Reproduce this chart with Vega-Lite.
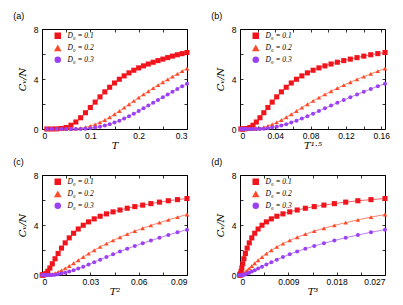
{
"$schema": "https://vega.github.io/schema/vega-lite/v6.json",
"padding": {"left": 12, "top": 11, "right": 0, "bottom": 0},
"config": {
 "font": "Liberation Sans",
 "view": {"stroke": "black", "strokeWidth": 1},
 "axis": {"grid": false, "domain": false, "tickSize": -3, "tickColor": "black", "tickWidth": 0.8, "labelFont": "Liberation Sans", "labelFontSize": 8.5, "labelColor": "black", "titleFont": "DejaVu Serif", "titleFontStyle": "italic", "titleFontWeight": "normal", "titleFontSize": 10, "titleColor": "black", "format": "~g"},
 "axisY": {"titlePadding": 6, "labelPadding": 7},
 "axisX": {"titlePadding": 1, "labelPadding": 5},
 "legend": {"orient": "none", "legendX": 12, "legendY": 3, "title": null, "labelFont": "Liberation Serif", "labelFontStyle": "italic", "labelFontSize": 7.5, "labelColor": "black", "symbolSize": 25, "symbolOpacity": 1, "rowPadding": 0.5, "padding": 0, "labelOffset": 6},
 "title": {"font": "Liberation Sans", "fontSize": 9, "fontWeight": "normal", "anchor": "start", "frame": "bounds", "offset": 4, "color": "black"}
},
"data": {"values": [
{"T":0.01,"T15":0.001,"T2":0.0001,"T3":0.000001,"D":"0.1","C":0},
{"T":0.02,"T15":0.002828,"T2":0.0004,"T3":0.000008,"D":"0.1","C":0},
{"T":0.03,"T15":0.005196,"T2":0.0009,"T3":0.000027,"D":"0.1","C":0.01},
{"T":0.04,"T15":0.008,"T2":0.0016,"T3":0.000064,"D":"0.1","C":0.04},
{"T":0.05,"T15":0.01118,"T2":0.0025,"T3":0.000125,"D":"0.1","C":0.12},
{"T":0.06,"T15":0.014697,"T2":0.0036,"T3":0.000216,"D":"0.1","C":0.3},
{"T":0.07,"T15":0.01852,"T2":0.0049,"T3":0.000343,"D":"0.1","C":0.56},
{"T":0.08,"T15":0.022627,"T2":0.0064,"T3":0.000512,"D":"0.1","C":0.9},
{"T":0.09,"T15":0.027,"T2":0.0081,"T3":0.000729,"D":"0.1","C":1.3},
{"T":0.1,"T15":0.031623,"T2":0.01,"T3":0.001,"D":"0.1","C":1.72},
{"T":0.11,"T15":0.036483,"T2":0.0121,"T3":0.001331,"D":"0.1","C":2.15},
{"T":0.12,"T15":0.041569,"T2":0.0144,"T3":0.001728,"D":"0.1","C":2.57},
{"T":0.13,"T15":0.046872,"T2":0.0169,"T3":0.002197,"D":"0.1","C":2.97},
{"T":0.14,"T15":0.052383,"T2":0.0196,"T3":0.002744,"D":"0.1","C":3.34},
{"T":0.15,"T15":0.058095,"T2":0.0225,"T3":0.003375,"D":"0.1","C":3.68},
{"T":0.16,"T15":0.064,"T2":0.0256,"T3":0.004096,"D":"0.1","C":3.98},
{"T":0.17,"T15":0.070093,"T2":0.0289,"T3":0.004913,"D":"0.1","C":4.25},
{"T":0.18,"T15":0.076368,"T2":0.0324,"T3":0.005832,"D":"0.1","C":4.49},
{"T":0.19,"T15":0.082819,"T2":0.0361,"T3":0.006859,"D":"0.1","C":4.7},
{"T":0.2,"T15":0.089443,"T2":0.04,"T3":0.008,"D":"0.1","C":4.89},
{"T":0.21,"T15":0.096234,"T2":0.0441,"T3":0.009261,"D":"0.1","C":5.05},
{"T":0.22,"T15":0.103189,"T2":0.0484,"T3":0.010648,"D":"0.1","C":5.2},
{"T":0.23,"T15":0.110304,"T2":0.0529,"T3":0.012167,"D":"0.1","C":5.34},
{"T":0.24,"T15":0.117576,"T2":0.0576,"T3":0.013824,"D":"0.1","C":5.47},
{"T":0.25,"T15":0.125,"T2":0.0625,"T3":0.015625,"D":"0.1","C":5.59},
{"T":0.26,"T15":0.132575,"T2":0.0676,"T3":0.017576,"D":"0.1","C":5.71},
{"T":0.27,"T15":0.140296,"T2":0.0729,"T3":0.019683,"D":"0.1","C":5.83},
{"T":0.28,"T15":0.148162,"T2":0.0784,"T3":0.021952,"D":"0.1","C":5.94},
{"T":0.29,"T15":0.15617,"T2":0.0841,"T3":0.024389,"D":"0.1","C":6.03},
{"T":0.3,"T15":0.164317,"T2":0.09,"T3":0.027,"D":"0.1","C":6.12},
{"T":0.01,"T15":0.001,"T2":0.0001,"T3":0.000001,"D":"0.2","C":0},
{"T":0.02,"T15":0.002828,"T2":0.0004,"T3":0.000008,"D":"0.2","C":0},
{"T":0.03,"T15":0.005196,"T2":0.0009,"T3":0.000027,"D":"0.2","C":0},
{"T":0.04,"T15":0.008,"T2":0.0016,"T3":0.000064,"D":"0.2","C":0},
{"T":0.05,"T15":0.01118,"T2":0.0025,"T3":0.000125,"D":"0.2","C":0},
{"T":0.06,"T15":0.014697,"T2":0.0036,"T3":0.000216,"D":"0.2","C":0.01},
{"T":0.07,"T15":0.01852,"T2":0.0049,"T3":0.000343,"D":"0.2","C":0.03},
{"T":0.08,"T15":0.022627,"T2":0.0064,"T3":0.000512,"D":"0.2","C":0.07},
{"T":0.09,"T15":0.027,"T2":0.0081,"T3":0.000729,"D":"0.2","C":0.14},
{"T":0.1,"T15":0.031623,"T2":0.01,"T3":0.001,"D":"0.2","C":0.24},
{"T":0.11,"T15":0.036483,"T2":0.0121,"T3":0.001331,"D":"0.2","C":0.37},
{"T":0.12,"T15":0.041569,"T2":0.0144,"T3":0.001728,"D":"0.2","C":0.53},
{"T":0.13,"T15":0.046872,"T2":0.0169,"T3":0.002197,"D":"0.2","C":0.72},
{"T":0.14,"T15":0.052383,"T2":0.0196,"T3":0.002744,"D":"0.2","C":0.94},
{"T":0.15,"T15":0.058095,"T2":0.0225,"T3":0.003375,"D":"0.2","C":1.18},
{"T":0.16,"T15":0.064,"T2":0.0256,"T3":0.004096,"D":"0.2","C":1.44},
{"T":0.17,"T15":0.070093,"T2":0.0289,"T3":0.004913,"D":"0.2","C":1.71},
{"T":0.18,"T15":0.076368,"T2":0.0324,"T3":0.005832,"D":"0.2","C":1.98},
{"T":0.19,"T15":0.082819,"T2":0.0361,"T3":0.006859,"D":"0.2","C":2.25},
{"T":0.2,"T15":0.089443,"T2":0.04,"T3":0.008,"D":"0.2","C":2.51},
{"T":0.21,"T15":0.096234,"T2":0.0441,"T3":0.009261,"D":"0.2","C":2.77},
{"T":0.22,"T15":0.103189,"T2":0.0484,"T3":0.010648,"D":"0.2","C":3.02},
{"T":0.23,"T15":0.110304,"T2":0.0529,"T3":0.012167,"D":"0.2","C":3.27},
{"T":0.24,"T15":0.117576,"T2":0.0576,"T3":0.013824,"D":"0.2","C":3.51},
{"T":0.25,"T15":0.125,"T2":0.0625,"T3":0.015625,"D":"0.2","C":3.74},
{"T":0.26,"T15":0.132575,"T2":0.0676,"T3":0.017576,"D":"0.2","C":3.97},
{"T":0.27,"T15":0.140296,"T2":0.0729,"T3":0.019683,"D":"0.2","C":4.19},
{"T":0.28,"T15":0.148162,"T2":0.0784,"T3":0.021952,"D":"0.2","C":4.41},
{"T":0.29,"T15":0.15617,"T2":0.0841,"T3":0.024389,"D":"0.2","C":4.63},
{"T":0.3,"T15":0.164317,"T2":0.09,"T3":0.027,"D":"0.2","C":4.84},
{"T":0.01,"T15":0.001,"T2":0.0001,"T3":0.000001,"D":"0.3","C":0},
{"T":0.02,"T15":0.002828,"T2":0.0004,"T3":0.000008,"D":"0.3","C":0},
{"T":0.03,"T15":0.005196,"T2":0.0009,"T3":0.000027,"D":"0.3","C":0},
{"T":0.04,"T15":0.008,"T2":0.0016,"T3":0.000064,"D":"0.3","C":0},
{"T":0.05,"T15":0.01118,"T2":0.0025,"T3":0.000125,"D":"0.3","C":0},
{"T":0.06,"T15":0.014697,"T2":0.0036,"T3":0.000216,"D":"0.3","C":0},
{"T":0.07,"T15":0.01852,"T2":0.0049,"T3":0.000343,"D":"0.3","C":0},
{"T":0.08,"T15":0.022627,"T2":0.0064,"T3":0.000512,"D":"0.3","C":0.01},
{"T":0.09,"T15":0.027,"T2":0.0081,"T3":0.000729,"D":"0.3","C":0.03},
{"T":0.1,"T15":0.031623,"T2":0.01,"T3":0.001,"D":"0.3","C":0.07},
{"T":0.11,"T15":0.036483,"T2":0.0121,"T3":0.001331,"D":"0.3","C":0.12},
{"T":0.12,"T15":0.041569,"T2":0.0144,"T3":0.001728,"D":"0.3","C":0.19},
{"T":0.13,"T15":0.046872,"T2":0.0169,"T3":0.002197,"D":"0.3","C":0.28},
{"T":0.14,"T15":0.052383,"T2":0.0196,"T3":0.002744,"D":"0.3","C":0.39},
{"T":0.15,"T15":0.058095,"T2":0.0225,"T3":0.003375,"D":"0.3","C":0.52},
{"T":0.16,"T15":0.064,"T2":0.0256,"T3":0.004096,"D":"0.3","C":0.67},
{"T":0.17,"T15":0.070093,"T2":0.0289,"T3":0.004913,"D":"0.3","C":0.84},
{"T":0.18,"T15":0.076368,"T2":0.0324,"T3":0.005832,"D":"0.3","C":1.03},
{"T":0.19,"T15":0.082819,"T2":0.0361,"T3":0.006859,"D":"0.3","C":1.23},
{"T":0.2,"T15":0.089443,"T2":0.04,"T3":0.008,"D":"0.3","C":1.44},
{"T":0.21,"T15":0.096234,"T2":0.0441,"T3":0.009261,"D":"0.3","C":1.66},
{"T":0.22,"T15":0.103189,"T2":0.0484,"T3":0.010648,"D":"0.3","C":1.88},
{"T":0.23,"T15":0.110304,"T2":0.0529,"T3":0.012167,"D":"0.3","C":2.1},
{"T":0.24,"T15":0.117576,"T2":0.0576,"T3":0.013824,"D":"0.3","C":2.32},
{"T":0.25,"T15":0.125,"T2":0.0625,"T3":0.015625,"D":"0.3","C":2.54},
{"T":0.26,"T15":0.132575,"T2":0.0676,"T3":0.017576,"D":"0.3","C":2.76},
{"T":0.27,"T15":0.140296,"T2":0.0729,"T3":0.019683,"D":"0.3","C":2.98},
{"T":0.28,"T15":0.148162,"T2":0.0784,"T3":0.021952,"D":"0.3","C":3.2},
{"T":0.29,"T15":0.15617,"T2":0.0841,"T3":0.024389,"D":"0.3","C":3.42},
{"T":0.3,"T15":0.164317,"T2":0.09,"T3":0.027,"D":"0.3","C":3.63}
]},
"columns": 2,
"spacing": {"row": 6, "column": 19},
"resolve": {"scale": {"x": "independent", "y": "independent"}, "legend": {"color": "independent", "shape": "independent"}},
"concat": [
 {"title": {"text": "(a)", "dx": -4}, "width": 145, "height": 100,
  "resolve": {"axis": {"x": "independent", "y": "independent"}},
  "layer": [
   {"mark": {"type": "line", "strokeWidth": 0.9, "strokeOpacity": 0.75},
    "encoding": {"x": {"field": "T", "type": "quantitative", "scale": {"domain": [0, 0.3], "nice": false}, "axis": {"orient": "bottom", "title": "T", "values": [0,0.05,0.1,0.15,0.2,0.25,0.3], "labelExpr": "round(datum.value*100) % 10 === 0 ? datum.label : ''"}},
     "y": {"field": "C", "type": "quantitative", "scale": {"domain": [0, 8], "nice": false}, "axis": {"orient": "left", "title": "Cᵥ/N", "values": [0,2,4,6,8], "labelExpr": "datum.value % 4 === 0 ? datum.label : ''"}},
     "color": {"field": "D", "type": "nominal", "scale": {"domain": ["0.1","0.2","0.3"], "range": ["#f0141c","#ff4a2a","#9b40f2"]}, "legend": {"labelExpr": "'D₀ = ' + datum.label"}}}},
   {"mark": {"type": "point", "filled": true, "opacity": 1},
    "encoding": {"x": {"field": "T", "type": "quantitative", "axis": null},
     "y": {"field": "C", "type": "quantitative", "axis": null},
     "color": {"field": "D", "type": "nominal", "legend": {"labelExpr": "'D₀ = ' + datum.label"}},
     "shape": {"field": "D", "type": "nominal", "scale": {"domain": ["0.1","0.2","0.3"], "range": ["square","triangle-up","circle"]}, "legend": {"labelExpr": "'D₀ = ' + datum.label"}},
     "size": {"field": "D", "type": "ordinal", "scale": {"domain": ["0.1","0.2","0.3"], "range": [26,16,24]}, "legend": null}}},
   {"mark": {"type": "point", "opacity": 0},
    "encoding": {"x": {"field": "T", "type": "quantitative", "axis": {"orient": "top", "labels": false, "title": null, "values": [0,0.05,0.1,0.15,0.2,0.25,0.3]}},
     "y": {"field": "C", "type": "quantitative", "axis": {"orient": "right", "labels": false, "title": null, "values": [0,2,4,6,8]}}}}
  ]},
 {"title": {"text": "(b)", "dx": -4}, "width": 145, "height": 100,
  "resolve": {"axis": {"x": "independent", "y": "independent"}},
  "layer": [
   {"mark": {"type": "line", "strokeWidth": 0.9, "strokeOpacity": 0.75},
    "encoding": {"x": {"field": "T15", "type": "quantitative", "scale": {"domain": [0, 0.1643], "nice": false}, "axis": {"orient": "bottom", "title": "T¹·⁵", "values": [0,0.02,0.04,0.06,0.08,0.1,0.12,0.14,0.16], "labelExpr": "round(datum.value*100) % 4 === 0 ? datum.label : ''"}},
     "y": {"field": "C", "type": "quantitative", "scale": {"domain": [0, 8], "nice": false}, "axis": {"orient": "left", "title": "Cᵥ/N", "values": [0,2,4,6,8], "labelExpr": "datum.value % 4 === 0 ? datum.label : ''"}},
     "color": {"field": "D", "type": "nominal", "scale": {"domain": ["0.1","0.2","0.3"], "range": ["#f0141c","#ff4a2a","#9b40f2"]}, "legend": {"labelExpr": "'D₀ = ' + datum.label"}}}},
   {"mark": {"type": "point", "filled": true, "opacity": 1},
    "encoding": {"x": {"field": "T15", "type": "quantitative", "axis": null},
     "y": {"field": "C", "type": "quantitative", "axis": null},
     "color": {"field": "D", "type": "nominal", "legend": {"labelExpr": "'D₀ = ' + datum.label"}},
     "shape": {"field": "D", "type": "nominal", "scale": {"domain": ["0.1","0.2","0.3"], "range": ["square","triangle-up","circle"]}, "legend": {"labelExpr": "'D₀ = ' + datum.label"}},
     "size": {"field": "D", "type": "ordinal", "scale": {"domain": ["0.1","0.2","0.3"], "range": [26,16,24]}, "legend": null}}},
   {"mark": {"type": "point", "opacity": 0},
    "encoding": {"x": {"field": "T15", "type": "quantitative", "axis": {"orient": "top", "labels": false, "title": null, "values": [0,0.02,0.04,0.06,0.08,0.1,0.12,0.14,0.16]}},
     "y": {"field": "C", "type": "quantitative", "axis": {"orient": "right", "labels": false, "title": null, "values": [0,2,4,6,8]}}}}
  ]},
 {"title": {"text": "(c)", "dx": -4}, "width": 145, "height": 100,
  "resolve": {"axis": {"x": "independent", "y": "independent"}},
  "layer": [
   {"mark": {"type": "line", "strokeWidth": 0.9, "strokeOpacity": 0.75},
    "encoding": {"x": {"field": "T2", "type": "quantitative", "scale": {"domain": [0, 0.09], "nice": false}, "axis": {"orient": "bottom", "title": "T²", "values": [0,0.015,0.03,0.045,0.06,0.075,0.09], "labelExpr": "round(datum.value*1000) % 30 === 0 ? datum.label : ''"}},
     "y": {"field": "C", "type": "quantitative", "scale": {"domain": [0, 8], "nice": false}, "axis": {"orient": "left", "title": "Cᵥ/N", "values": [0,2,4,6,8], "labelExpr": "datum.value % 4 === 0 ? datum.label : ''"}},
     "color": {"field": "D", "type": "nominal", "scale": {"domain": ["0.1","0.2","0.3"], "range": ["#f0141c","#ff4a2a","#9b40f2"]}, "legend": {"labelExpr": "'D₀ = ' + datum.label"}}}},
   {"mark": {"type": "point", "filled": true, "opacity": 1},
    "encoding": {"x": {"field": "T2", "type": "quantitative", "axis": null},
     "y": {"field": "C", "type": "quantitative", "axis": null},
     "color": {"field": "D", "type": "nominal", "legend": {"labelExpr": "'D₀ = ' + datum.label"}},
     "shape": {"field": "D", "type": "nominal", "scale": {"domain": ["0.1","0.2","0.3"], "range": ["square","triangle-up","circle"]}, "legend": {"labelExpr": "'D₀ = ' + datum.label"}},
     "size": {"field": "D", "type": "ordinal", "scale": {"domain": ["0.1","0.2","0.3"], "range": [26,16,24]}, "legend": null}}},
   {"mark": {"type": "point", "opacity": 0},
    "encoding": {"x": {"field": "T2", "type": "quantitative", "axis": {"orient": "top", "labels": false, "title": null, "values": [0,0.015,0.03,0.045,0.06,0.075,0.09]}},
     "y": {"field": "C", "type": "quantitative", "axis": {"orient": "right", "labels": false, "title": null, "values": [0,2,4,6,8]}}}}
  ]},
 {"title": {"text": "(d)", "dx": -4}, "width": 145, "height": 100,
  "resolve": {"axis": {"x": "independent", "y": "independent"}},
  "layer": [
   {"mark": {"type": "line", "strokeWidth": 0.9, "strokeOpacity": 0.75},
    "encoding": {"x": {"field": "T3", "type": "quantitative", "scale": {"domain": [0, 0.027], "nice": false}, "axis": {"orient": "bottom", "title": "T³", "values": [0,0.0045,0.009,0.0135,0.018,0.0225,0.027], "labelExpr": "round(datum.value*10000) % 90 === 0 ? datum.label : ''"}},
     "y": {"field": "C", "type": "quantitative", "scale": {"domain": [0, 8], "nice": false}, "axis": {"orient": "left", "title": "Cᵥ/N", "values": [0,2,4,6,8], "labelExpr": "datum.value % 4 === 0 ? datum.label : ''"}},
     "color": {"field": "D", "type": "nominal", "scale": {"domain": ["0.1","0.2","0.3"], "range": ["#f0141c","#ff4a2a","#9b40f2"]}, "legend": {"labelExpr": "'D₀ = ' + datum.label"}}}},
   {"mark": {"type": "point", "filled": true, "opacity": 1},
    "encoding": {"x": {"field": "T3", "type": "quantitative", "axis": null},
     "y": {"field": "C", "type": "quantitative", "axis": null},
     "color": {"field": "D", "type": "nominal", "legend": {"labelExpr": "'D₀ = ' + datum.label"}},
     "shape": {"field": "D", "type": "nominal", "scale": {"domain": ["0.1","0.2","0.3"], "range": ["square","triangle-up","circle"]}, "legend": {"labelExpr": "'D₀ = ' + datum.label"}},
     "size": {"field": "D", "type": "ordinal", "scale": {"domain": ["0.1","0.2","0.3"], "range": [26,16,24]}, "legend": null}}},
   {"mark": {"type": "point", "opacity": 0},
    "encoding": {"x": {"field": "T3", "type": "quantitative", "axis": {"orient": "top", "labels": false, "title": null, "values": [0,0.0045,0.009,0.0135,0.018,0.0225,0.027]}},
     "y": {"field": "C", "type": "quantitative", "axis": {"orient": "right", "labels": false, "title": null, "values": [0,2,4,6,8]}}}}
  ]}
]
}
